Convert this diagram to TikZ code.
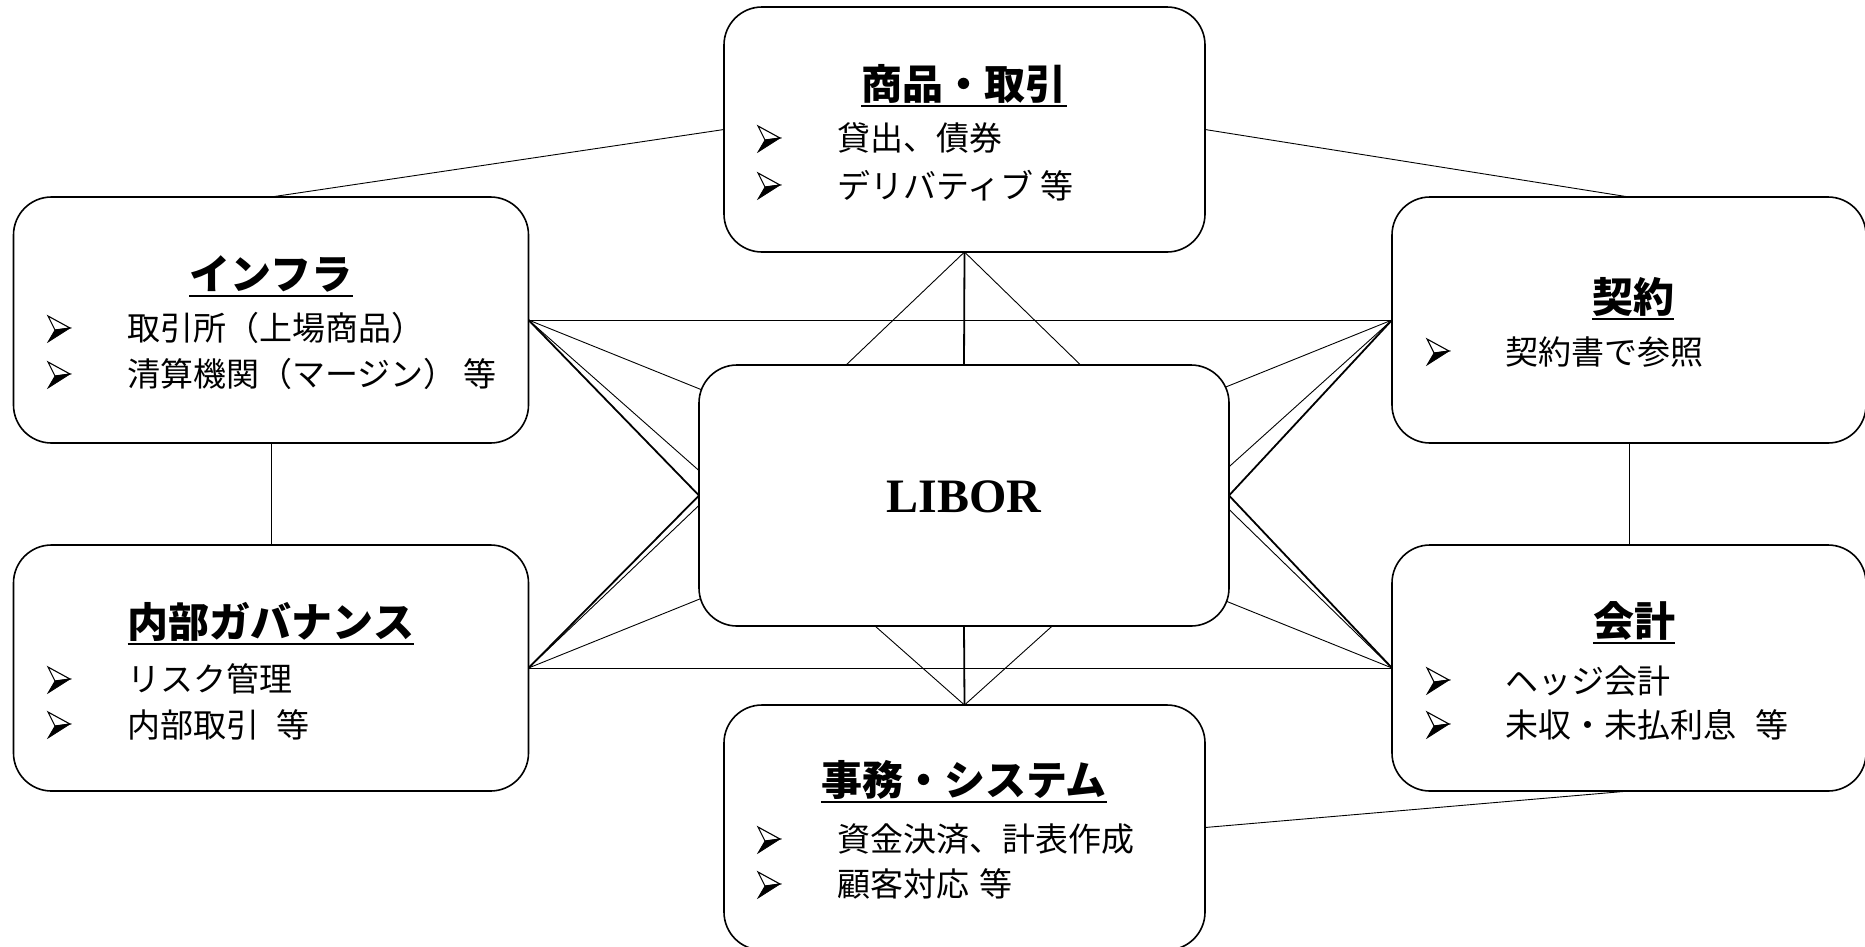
\documentclass[tikz,border=0pt]{standalone}
\usepackage{fontspec}
\setmainfont{Liberation Serif}
\newfontfamily\jp{Noto Sans CJK JP}
\usetikzlibrary{calc,backgrounds}
\begin{document}
\begin{tikzpicture}[x=1pt,y=-1pt,
  box/.style={draw=black, line width=1.6pt, rounded corners=38pt, fill=white, inner sep=0pt, outer sep=0pt, anchor=north west},
  thinline/.style={draw=black, line width=0.9pt},
  thickline/.style={draw=black, line width=1.8pt},
  ttl/.style={font=\jp\bfseries\fontsize{41}{41}\selectfont, inner sep=0pt, anchor=center},
  uline/.style={draw=black, line width=2.4pt},
  itm/.style={font=\jp\fontsize{33}{33}\selectfont, inner sep=0pt, anchor=west},
  arrowhd/.pic={
    \draw[line width=1.1pt, fill=white, line join=miter] (0,-13) -- (22,-1) -- (7,1) -- cycle;
    \fill[black] (7,1) -- (22,-1) -- (0,13) -- cycle;
    \draw[line width=0.8pt, line join=miter] (7,1) -- (22,-1) -- (0,13) -- cycle;
  },
]
\useasboundingbox (0,0) rectangle (1865,946);
% boxes
\node[box, minimum width=515pt, minimum height=246pt] (infra) at (13.5,197) {};
\node[box, minimum width=515pt, minimum height=246pt] (naibu) at (13.5,545) {};
\node[box, minimum width=481pt, minimum height=245pt] (shohin) at (724,7) {};
\node[box, minimum width=481pt, minimum height=245pt] (jimu) at (724,705) {};
\node[box, minimum width=474pt, minimum height=246pt] (keiyaku) at (1392,197) {};
\node[box, minimum width=474pt, minimum height=246pt] (kaikei) at (1392,545) {};
\node[box, minimum width=530pt, minimum height=261pt] (libor) at (699,365) {};
% connectors behind the boxes
\begin{scope}[on background layer]
\fill[white] (0,0) rectangle (1865,946);
\draw[thinline] (infra.north) -- (shohin.west);
\draw[thinline] (shohin.east) -- (keiyaku.north);
\draw[thinline] (keiyaku.south) -- (kaikei.north);
\draw[thinline] (kaikei.south) -- (jimu.east);
\draw[thinline] (infra.south) -- (naibu.north);
\draw[thinline] (infra.east) -- (keiyaku.west);
\draw[thinline] (naibu.east) -- (kaikei.west);
\draw[thinline] (infra.east) -- (kaikei.west);
\draw[thinline] (naibu.east) -- (keiyaku.west);
\draw[thinline] (infra.east) -- (jimu.north);
\draw[thinline] (naibu.east) -- (shohin.south);
\draw[thinline] (keiyaku.west) -- (jimu.north);
\draw[thinline] (kaikei.west) -- (shohin.south);
\draw[thickline] (infra.east) -- (libor.west);
\draw[thickline] (naibu.east) -- (libor.west);
\draw[thickline] (keiyaku.west) -- (libor.east);
\draw[thickline] (kaikei.west) -- (libor.east);
\draw[thickline] (shohin.south) -- (libor.north);
\draw[thickline] (jimu.north) -- (libor.south);
\end{scope}
% LIBOR
\node[inner sep=0pt, font=\bfseries\fontsize{48}{48}\selectfont] (lbt) at (964,497) {LIBOR};
% titles
\node[ttl] (t1) at (964,84) {商品・取引};
\node[ttl] (t2) at (271,274) {インフラ};
\node[ttl] (t3) at (1633,297) {契約};
\node[ttl] (t4) at (271,622) {内部ガバナンス};
\node[ttl] (t5) at (1634,621) {会計};
\node[ttl] (t6) at (964,780) {事務・システム};
\foreach \t in {t1,t2,t3,t4,t5,t6}{
  \draw[uline] ($(\t.west)+(0,22)$) -- ($(\t.east)+(0,22)$);
}
% bullet markers
\foreach \p in {(758,139),(758,186),(48,329),(48,375),(1427,352),(48,680),(48,725),(1427,681),(1427,725),(758,840),(758,885)}{
  \pic at \p {arrowhd};
}
% items: shohin
\node[itm] (i1a) at (837,138) {貸出、債券};
\node[itm] (i1b) at (837,186) {デリバティブ 等};
% infra
\node[itm] (i2a) at (127,328) {取引所（上場商品）};
\node[itm] (i2b) at (127,374) {清算機関（マージン） 等};
% keiyaku
\node[itm] (i3a) at (1505,352) {契約書で参照};
% naibu
\node[itm] (i4a) at (127,679) {リスク管理};
\node[itm] (i4b) at (127,725) {内部取引\hspace{17pt}等};
% kaikei
\node[itm] (i5a) at (1505,681) {ヘッジ会計};
\node[itm] (i5b) at (1505,725) {未収・未払利息\hspace{19pt}等};
% jimu
\node[itm] (i6a) at (837,839) {資金決済、計表作成};
\node[itm] (i6b) at (837,884) {顧客対応\hspace{10pt}等};
\end{tikzpicture}
\end{document}
